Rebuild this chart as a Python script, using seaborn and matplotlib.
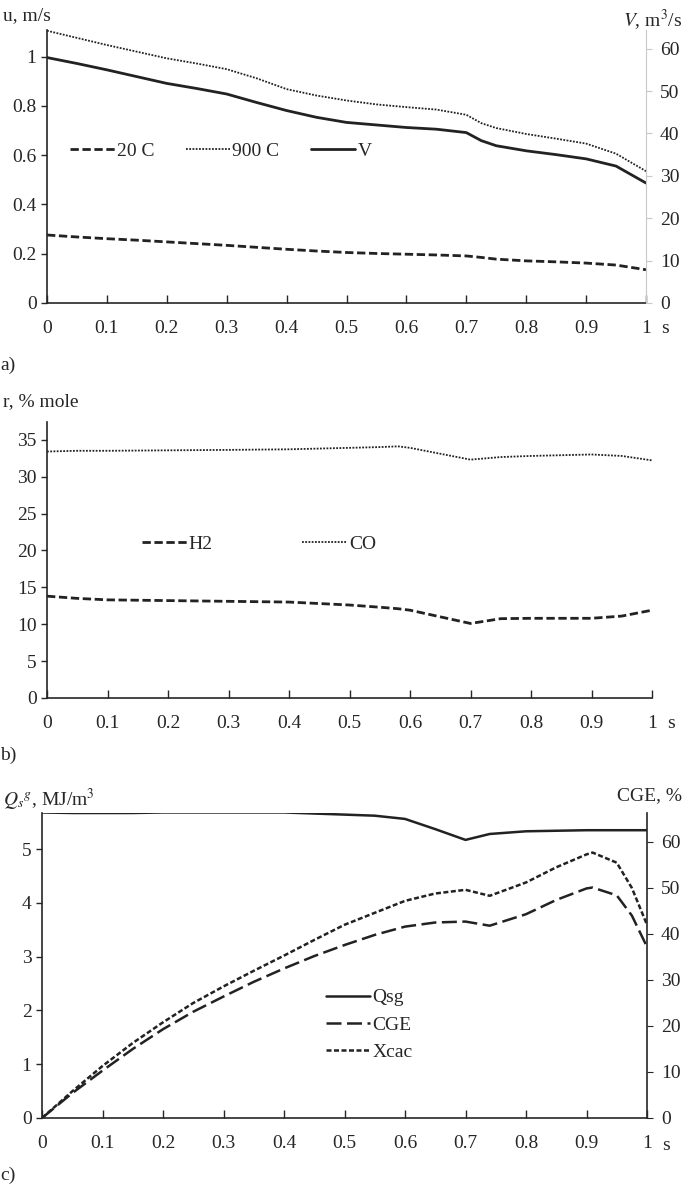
import numpy as np
import pandas as pd
import matplotlib
matplotlib.use("Agg")
import matplotlib.pyplot as plt
import seaborn as sns

sns.set_style("ticks")
plt.rcParams['font.family'] = ['Liberation Serif', 'DejaVu Serif']
plt.rcParams['mathtext.fontset'] = 'stix'
plt.rcParams['font.size'] = 14
FS = 14

# --- panel a: gas velocity and flow ---
x_a = [0, 0.05, 0.1, 0.15, 0.2, 0.25, 0.3, 0.35, 0.4, 0.45, 0.5, 0.55,
       0.6, 0.65, 0.7, 0.725, 0.75, 0.8, 0.85, 0.9, 0.95, 1.0]
u_20c = [0.276, 0.268, 0.261, 0.255, 0.248, 0.241, 0.234, 0.226, 0.218, 0.211, 0.205, 0.201,
         0.198, 0.195, 0.191, 0.185, 0.178, 0.171, 0.167, 0.162, 0.154, 0.135]
u_900c = [1.105, 1.076, 1.047, 1.020, 0.993, 0.972, 0.949, 0.912, 0.868, 0.842, 0.822, 0.806,
          0.795, 0.785, 0.764, 0.730, 0.710, 0.686, 0.667, 0.647, 0.606, 0.535]
v_flow = [57.9, 56.5, 55.0, 53.4, 51.8, 50.6, 49.3, 47.3, 45.4, 43.8, 42.6, 42.0,
          41.4, 41.0, 40.2, 38.3, 37.1, 35.9, 35.0, 34.0, 32.3, 28.3]

# --- panel b: gas composition ---
x_b = [0, 0.05, 0.1, 0.2, 0.3, 0.4, 0.5, 0.55, 0.58, 0.6, 0.65, 0.7,
       0.75, 0.8, 0.9, 0.95, 1.0]
h2 = [13.8, 13.5, 13.3, 13.2, 13.1, 13.0, 12.6, 12.3, 12.1, 11.9, 11.0, 10.1,
      10.75, 10.8, 10.8, 11.1, 11.9]
co = [33.4, 33.5, 33.5, 33.56, 33.62, 33.7, 33.9, 34.0, 34.1, 33.9, 33.1, 32.3,
      32.65, 32.8, 33.0, 32.8, 32.2]

# --- panel c: heating value, CGE, carbon conversion ---
x_c = [0, 0.05, 0.1, 0.15, 0.2, 0.25, 0.3, 0.35, 0.4, 0.45, 0.5, 0.55, 0.6, 0.65,
       0.7, 0.74, 0.8, 0.85, 0.9, 0.91, 0.95, 0.975, 1.0]
qsg = [5.68, 5.67, 5.67, 5.67, 5.68, 5.68, 5.68, 5.68, 5.68, 5.66, 5.64, 5.62, 5.56, 5.37,
       5.17, 5.28, 5.33, 5.34, 5.35, 5.35, 5.35, 5.35, 5.35]
cge = [0, 5.4, 10.3, 15.0, 19.3, 23.1, 26.4, 29.6, 32.5, 35.2, 37.6, 39.8, 41.6, 42.5,
       42.7, 41.8, 44.3, 47.4, 49.9, 50.1, 48.4, 44.0, 37.2]
xcac = [0, 5.8, 11.3, 16.3, 20.8, 25.0, 28.6, 32.0, 35.3, 38.7, 42.0, 44.6, 47.2, 48.8,
        49.6, 48.3, 51.2, 54.5, 57.3, 57.7, 55.5, 50.0, 42.0]

x_ticks = np.round(np.arange(0, 1.01, 0.1), 1)
x_ticklabels = ['0', '0.1', '0.2', '0.3', '0.4', '0.5', '0.6', '0.7', '0.8', '0.9', '1']

fig = plt.figure(figsize=(6.85, 11.97), dpi=100)
W, H = 685, 1197


def add_ax(l, r, t, b):
    return fig.add_axes([l / W, 1 - b / H, (r - l) / W, (b - t) / H])


def style_x(ax):
    ax.set_xlim(0, 1)
    ax.set_xticks(x_ticks)
    ax.set_xticklabels(x_ticklabels)
    ax.tick_params(axis='x', direction='in', length=6, width=1, pad=12)
    ax.tick_params(axis='y', direction='out', length=4, width=1)
    ax.set_xlabel('')
    ax.set_ylabel('')
    for s in ['top', 'right']:
        ax.spines[s].set_visible(False)
    for s in ['left', 'bottom']:
        ax.spines[s].set_linewidth(1.2)
    ax.text(1.025, -0.062, 's', transform=ax.transAxes, ha='left', va='top', fontsize=FS)


blk = '#222222'

# ---------- a ----------
ax1 = add_ax(47, 646, 30, 303)
df_a = pd.DataFrame({'x': x_a, 'u20': u_20c, 'u900': u_900c, 'V': v_flow})
sns.lineplot(data=df_a, x='x', y='u20', ax=ax1, color=blk, lw=2.0,
             linestyle=(0, (3, 1.3)), label='20 C', legend=False)
sns.lineplot(data=df_a, x='x', y='u900', ax=ax1, color=blk, lw=1.3,
             linestyle=(0, (1, 0.8)), label='900 C', legend=False)
ax1r = ax1.twinx()
sns.lineplot(data=df_a, x='x', y='V', ax=ax1r, color=blk, lw=2.0, label='V', legend=False)
style_x(ax1)
ax1.set_ylim(0, 1.108)
ax1.set_yticks([0, 0.2, 0.4, 0.6, 0.8, 1.0])
ax1.set_yticklabels(['0', '0.2', '0.4', '0.6', '0.8', '1'])
ax1r.set_ylim(0, 64.4)
ax1r.set_yticks(range(0, 61, 10))
ax1r.set_ylabel('')
for s in ['top', 'left', 'bottom']:
    ax1r.spines[s].set_visible(False)
ax1r.spines['right'].set_color('#c8c8c8')
ax1r.tick_params(axis='y', direction='out', length=4, color='#c8c8c8', pad=6)
h1, l1 = ax1.get_legend_handles_labels()
h2_, l2_ = ax1r.get_legend_handles_labels()
ax1.legend(h1 + h2_, l1 + l2_, ncol=3, frameon=False, loc='center left',
           bbox_to_anchor=(0.01, 0.557), handlelength=2.3, handletextpad=0.1,
           columnspacing=1.6, fontsize=FS)
fig.text(3 / W, 1 - 7 / H, 'u, m/s', ha='left', va='top', fontsize=FS)
fig.text(682 / W, 1 - 7 / H, '$V$, m$^3$/s', ha='right', va='top', fontsize=FS)
fig.text(0 / W, 1 - 357 / H, 'a)', ha='left', va='top', fontsize=FS)

# ---------- b ----------
ax2 = add_ax(47, 652, 422, 698)
df_b = pd.DataFrame({'x': x_b, 'H2': h2, 'CO': co})
sns.lineplot(data=df_b, x='x', y='H2', ax=ax2, color=blk, lw=2.0,
             linestyle=(0, (3, 1.3)), label='H2', legend=False)
sns.lineplot(data=df_b, x='x', y='CO', ax=ax2, color=blk, lw=1.3,
             linestyle=(0, (1, 0.8)), label='CO', legend=False)
style_x(ax2)
ax2.set_ylim(0, 37.4)
ax2.set_yticks(range(0, 36, 5))
ax2.legend(ncol=2, frameon=False, loc='center left', bbox_to_anchor=(0.128, 0.558),
           handlelength=2.3, handletextpad=0.1, columnspacing=4.6, fontsize=FS)
fig.text(3 / W, 1 - 393 / H, 'r, % mole', ha='left', va='top', fontsize=FS)
fig.text(0 / W, 1 - 747 / H, 'b)', ha='left', va='top', fontsize=FS)

# ---------- c ----------
ax3 = add_ax(42, 647, 813, 1118)
df_c = pd.DataFrame({'x': x_c, 'Qsg': qsg, 'CGE': cge, 'Xcac': xcac})
sns.lineplot(data=df_c, x='x', y='Qsg', ax=ax3, color=blk, lw=1.8, label='Qsg', legend=False)
ax3r = ax3.twinx()
sns.lineplot(data=df_c, x='x', y='CGE', ax=ax3r, color=blk, lw=1.8,
             linestyle=(0, (6, 2.2)), label='CGE', legend=False)
sns.lineplot(data=df_c, x='x', y='Xcac', ax=ax3r, color=blk, lw=1.8,
             linestyle=(0, (2, 1)), label='Xcac', legend=False)
style_x(ax3)
ax3.set_ylim(0, 5.67)
ax3.set_yticks(range(0, 6))
ax3r.set_ylim(0, 66.3)
ax3r.set_yticks(range(0, 61, 10))
ax3r.set_ylabel('')
for s in ['top', 'left', 'bottom']:
    ax3r.spines[s].set_visible(False)
ax3r.spines['right'].set_linewidth(1.2)
ax3r.tick_params(axis='y', direction='out', length=4, pad=6)
h3, l3 = ax3.get_legend_handles_labels()
h4, l4 = ax3r.get_legend_handles_labels()
ax3.legend(h3 + h4, l3 + l4, ncol=1, frameon=False, loc='center left',
           bbox_to_anchor=(0.44, 0.305), handlelength=2.3, handletextpad=0.1,
           labelspacing=0.5, fontsize=FS)
fig.text(3 / W, 1 - 787 / H, '$Q_s{}^g$, MJ/m$^3$', ha='left', va='top', fontsize=FS)
fig.text(682 / W, 1 - 787 / H, 'CGE, %', ha='right', va='top', fontsize=FS)
fig.text(0 / W, 1 - 1167 / H, 'c)', ha='left', va='top', fontsize=FS)

fig.savefig('out.png', dpi=100)
